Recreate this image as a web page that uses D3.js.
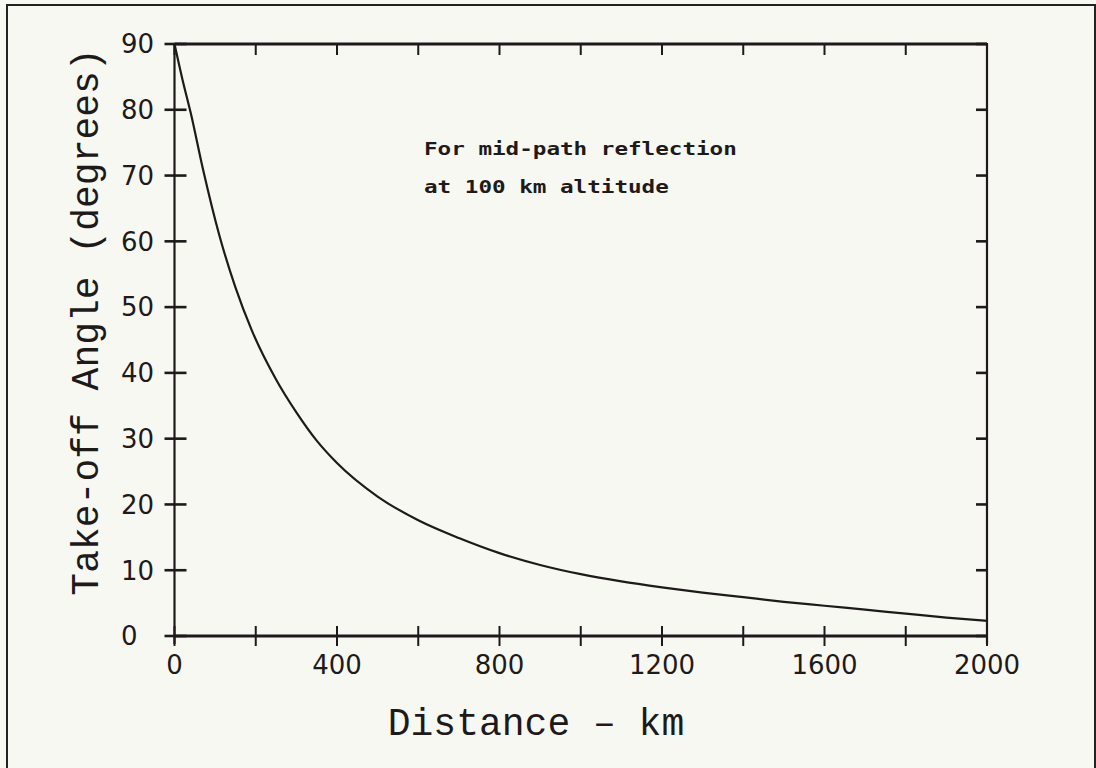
<!DOCTYPE html>
<html>
<head>
<meta charset="utf-8">
<script src="https://cdn.jsdelivr.net/npm/d3@7"></script>
<style>
  html, body { margin: 0; padding: 0; background: #f8f8f3; }
  svg { display: block; }
</style>
</head>
<body>
<script>
// Data
const distanceKm = [0, 20, 40, 70, 110, 150, 190, 250, 300, 350, 400, 500, 600, 700, 800, 900, 1000, 1100, 1200, 1300, 1400, 1500, 1600, 1700, 1800, 1900, 2000];
const takeoffDeg = [90, 84.5, 79.5, 71, 61, 53, 46.5, 39, 34, 29.7, 26.3, 21.2, 17.6, 14.9, 12.6, 10.8, 9.4, 8.3, 7.4, 6.6, 5.9, 5.2, 4.6, 4.0, 3.4, 2.8, 2.3];
const xTickValues = [0, 200, 400, 600, 800, 1000, 1200, 1400, 1600, 1800, 2000];
const xTickLabels = ["0", "400", "800", "1200", "1600", "2000"];
const yTickValues = [0, 10, 20, 30, 40, 50, 60, 70, 80, 90];
const annotationLines = ["For mid-path reflection", "at 100 km altitude"];
const xTitle = "Distance \u2013 km";
const yTitle = "Take-off Angle (degrees)";

const W = 1096, H = 768;
const svg = d3.select("body").append("svg").attr("width", W).attr("height", H);

svg.append("rect").attr("width", W).attr("height", H).attr("fill", "#f8f8f3");
// page frame
svg.append("rect").attr("x", 7).attr("y", 5).attr("width", 1088).attr("height", 800)
  .attr("fill", "none").attr("stroke", "#222").attr("stroke-width", 2);

const x = d3.scaleLinear().domain([0, 2000]).range([174.5, 987]);
const y = d3.scaleLinear().domain([0, 90]).range([636, 44]);

const ink = "#1e1a1a";
const g = svg.append("g");

// plot frame
g.append("line").attr("x1", x(0)).attr("x2", x(2000)).attr("y1", y(90)).attr("y2", y(90))
  .attr("stroke", ink).attr("stroke-width", 3.2);
g.append("line").attr("x1", x(0)).attr("x2", x(2000)).attr("y1", y(0)).attr("y2", y(0))
  .attr("stroke", ink).attr("stroke-width", 3);
g.append("line").attr("x1", x(0)).attr("x2", x(0)).attr("y1", y(0) + 8).attr("y2", y(90))
  .attr("stroke", ink).attr("stroke-width", 2.2);
g.append("line").attr("x1", x(2000)).attr("x2", x(2000)).attr("y1", y(0) + 8).attr("y2", y(90) - 1)
  .attr("stroke", ink).attr("stroke-width", 2.2);

// bottom ticks (crossing)
g.selectAll(".xb").data(xTickValues).join("line")
  .attr("x1", d => x(d)).attr("x2", d => x(d))
  .attr("y1", y(0) - 10).attr("y2", y(0) + 10)
  .attr("stroke", ink).attr("stroke-width", 2);
// top ticks (inward)
g.selectAll(".xt").data(xTickValues).join("line")
  .attr("x1", d => x(d)).attr("x2", d => x(d))
  .attr("y1", y(90)).attr("y2", y(90) + 11)
  .attr("stroke", ink).attr("stroke-width", 2);
// left ticks (crossing)
g.selectAll(".yl").data(yTickValues).join("line")
  .attr("x1", x(0) - 10).attr("x2", x(0) + 12)
  .attr("y1", d => y(d)).attr("y2", d => y(d))
  .attr("stroke", ink).attr("stroke-width", 2.6);
// right ticks (inward)
g.selectAll(".yr").data(yTickValues).join("line")
  .attr("x1", x(2000) - 11).attr("x2", x(2000))
  .attr("y1", d => y(d)).attr("y2", d => y(d))
  .attr("stroke", ink).attr("stroke-width", 2.6);

// tick labels
const tickFont = "'DejaVu Sans', sans-serif";
g.selectAll(".xl").data(xTickLabels).join("text")
  .attr("x", d => x(+d)).attr("y", 674)
  .attr("text-anchor", "middle")
  .attr("font-family", tickFont).attr("font-size", 26)
  .attr("fill", ink).text(d => d);
g.selectAll(".ylab").data(yTickValues).join("text")
  .attr("x", 121).attr("y", d => y(d)).attr("dy", "0.36em")
  .attr("text-anchor", "start")
  .attr("font-family", tickFont).attr("font-size", 26)
  .attr("fill", ink).text(d => String(d));

// curve
const line = d3.line().x((d, i) => x(distanceKm[i])).y(d => y(d)).curve(d3.curveMonotoneX);
g.append("path").datum(takeoffDeg).attr("d", line)
  .attr("fill", "none").attr("stroke", ink).attr("stroke-width", 2.2);

// annotation
g.selectAll(".ann").data(annotationLines).join("text")
  .attr("x", 424).attr("y", (d, i) => 155 + i * 38)
  .attr("font-family", "'DejaVu Sans Mono', monospace").attr("font-weight", "bold")
  .attr("font-size", 17).attr("fill", ink)
  .attr("textLength", d => d.length * 13.6).attr("lengthAdjust", "spacingAndGlyphs")
  .text(d => d);

// axis titles
g.append("text").attr("x", 536).attr("y", 735).attr("text-anchor", "middle")
  .attr("font-family", "'Liberation Mono', monospace").attr("font-size", 38)
  .attr("fill", ink).text(xTitle);
g.append("text").attr("transform", "translate(98,322) rotate(-90)").attr("text-anchor", "middle")
  .attr("font-family", "'Liberation Mono', monospace").attr("font-size", 38)
  .attr("fill", ink).text(yTitle);
</script>
</body>
</html>
